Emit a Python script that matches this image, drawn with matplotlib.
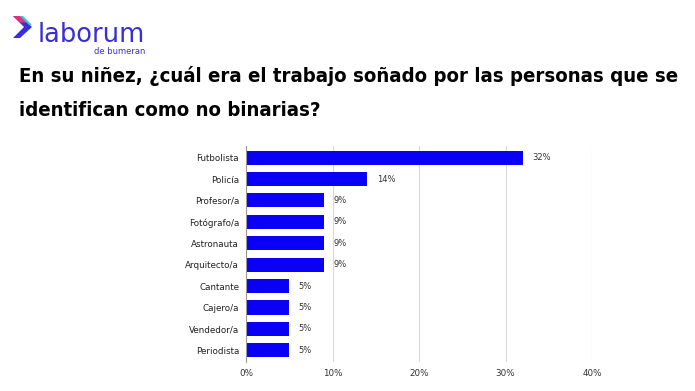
import matplotlib.pyplot as plt
from matplotlib.patches import Polygon

# Data
categories = ['Futbolista', 'Policía', 'Profesor/a', 'Fotógrafo/a', 'Astronauta',
              'Arquitecto/a', 'Cantante', 'Cajero/a', 'Vendedor/a', 'Periodista']
values = [32, 14, 9, 9, 9, 9, 5, 5, 5, 5]
xticks = [0, 10, 20, 30, 40]
title1 = 'En su niñez, ¿cuál era el trabajo soñado por las personas que se'
title2 = 'identifican como no binarias?'

fig = plt.figure(figsize=(6.95, 3.91), dpi=100)
fig.patch.set_facecolor('white')

# Logo (axes in pixel units, y from top)
logo = fig.add_axes([0.0, 1 - 60 / 391, 208.5 / 695, 60 / 391])
logo.set_xlim(0, 208.5)
logo.set_ylim(60, 0)
logo.axis('off')
logo.add_patch(Polygon([[13, 16], [20, 16], [32, 27], [20, 38], [13, 38], [24, 27]],
                       closed=True, facecolor='#3a2fd6', edgecolor='none'))
logo.add_patch(Polygon([[13, 16], [20, 16], [27, 22.5], [20, 22.5]],
                       closed=True, facecolor='#e0307e', edgecolor='none'))
logo.add_patch(Polygon([[20, 16], [23, 16], [32, 25], [29, 25]],
                       closed=True, facecolor='#3cc4dc', edgecolor='none'))
lt = logo.text(38, 42, 'laborum', fontsize=19, color='#3a2fd6', va='baseline', ha='left',
               family='DejaVu Sans')
logo.text(145, 51, 'de bumeran', fontsize=6, color='#3a2fd6', va='center', ha='right',
          family='DejaVu Sans')

# Title (fit first line to reference width)
t1 = fig.text(0.028, 0.805, title1, fontsize=15, fontweight='bold',
              family='DejaVu Sans', fontstretch='condensed',
              va='center', ha='left', color='black')
fig.canvas.draw()
w = t1.get_window_extent().width
fs = 15 * 663 / w
t1.set_fontsize(fs)
fig.text(0.028, 0.718, title2, fontsize=fs, fontweight='bold',
         family='DejaVu Sans', fontstretch='condensed',
         va='center', ha='left', color='black')
lw = lt.get_window_extent().width
lt.set_fontsize(19 * 107 / lw)

# Chart
ax = fig.add_axes([0.354, 0.074, 0.498, 0.553])
y = list(range(len(categories)))
ax.barh(y, values, height=0.66, color='#0a00f5', zorder=3)
for yi, v in zip(y, values):
    ax.text(v + 1.1, yi, f'{v}%', va='center', ha='left', fontsize=6, color='#333333')

ax.set_yticks(y)
ax.set_yticklabels(categories, fontsize=6.3, color='#222222')
ax.set_ylim(len(categories) - 0.45, -0.55)
ax.set_xlim(0, 40)
ax.set_xticks(xticks)
ax.set_xticklabels([f'{t}%' for t in xticks], fontsize=6.3, color='#333333')
ax.grid(axis='x', color='#d9d9d9', linewidth=0.8, zorder=0)
ax.tick_params(length=0, pad=5)
for s in ['top', 'right', 'bottom']:
    ax.spines[s].set_visible(False)
ax.spines['left'].set_color('#999999')
ax.spines['left'].set_linewidth(0.8)
ax.spines['left'].set_zorder(4)

fig.savefig('out.png', dpi=100, facecolor='white')
